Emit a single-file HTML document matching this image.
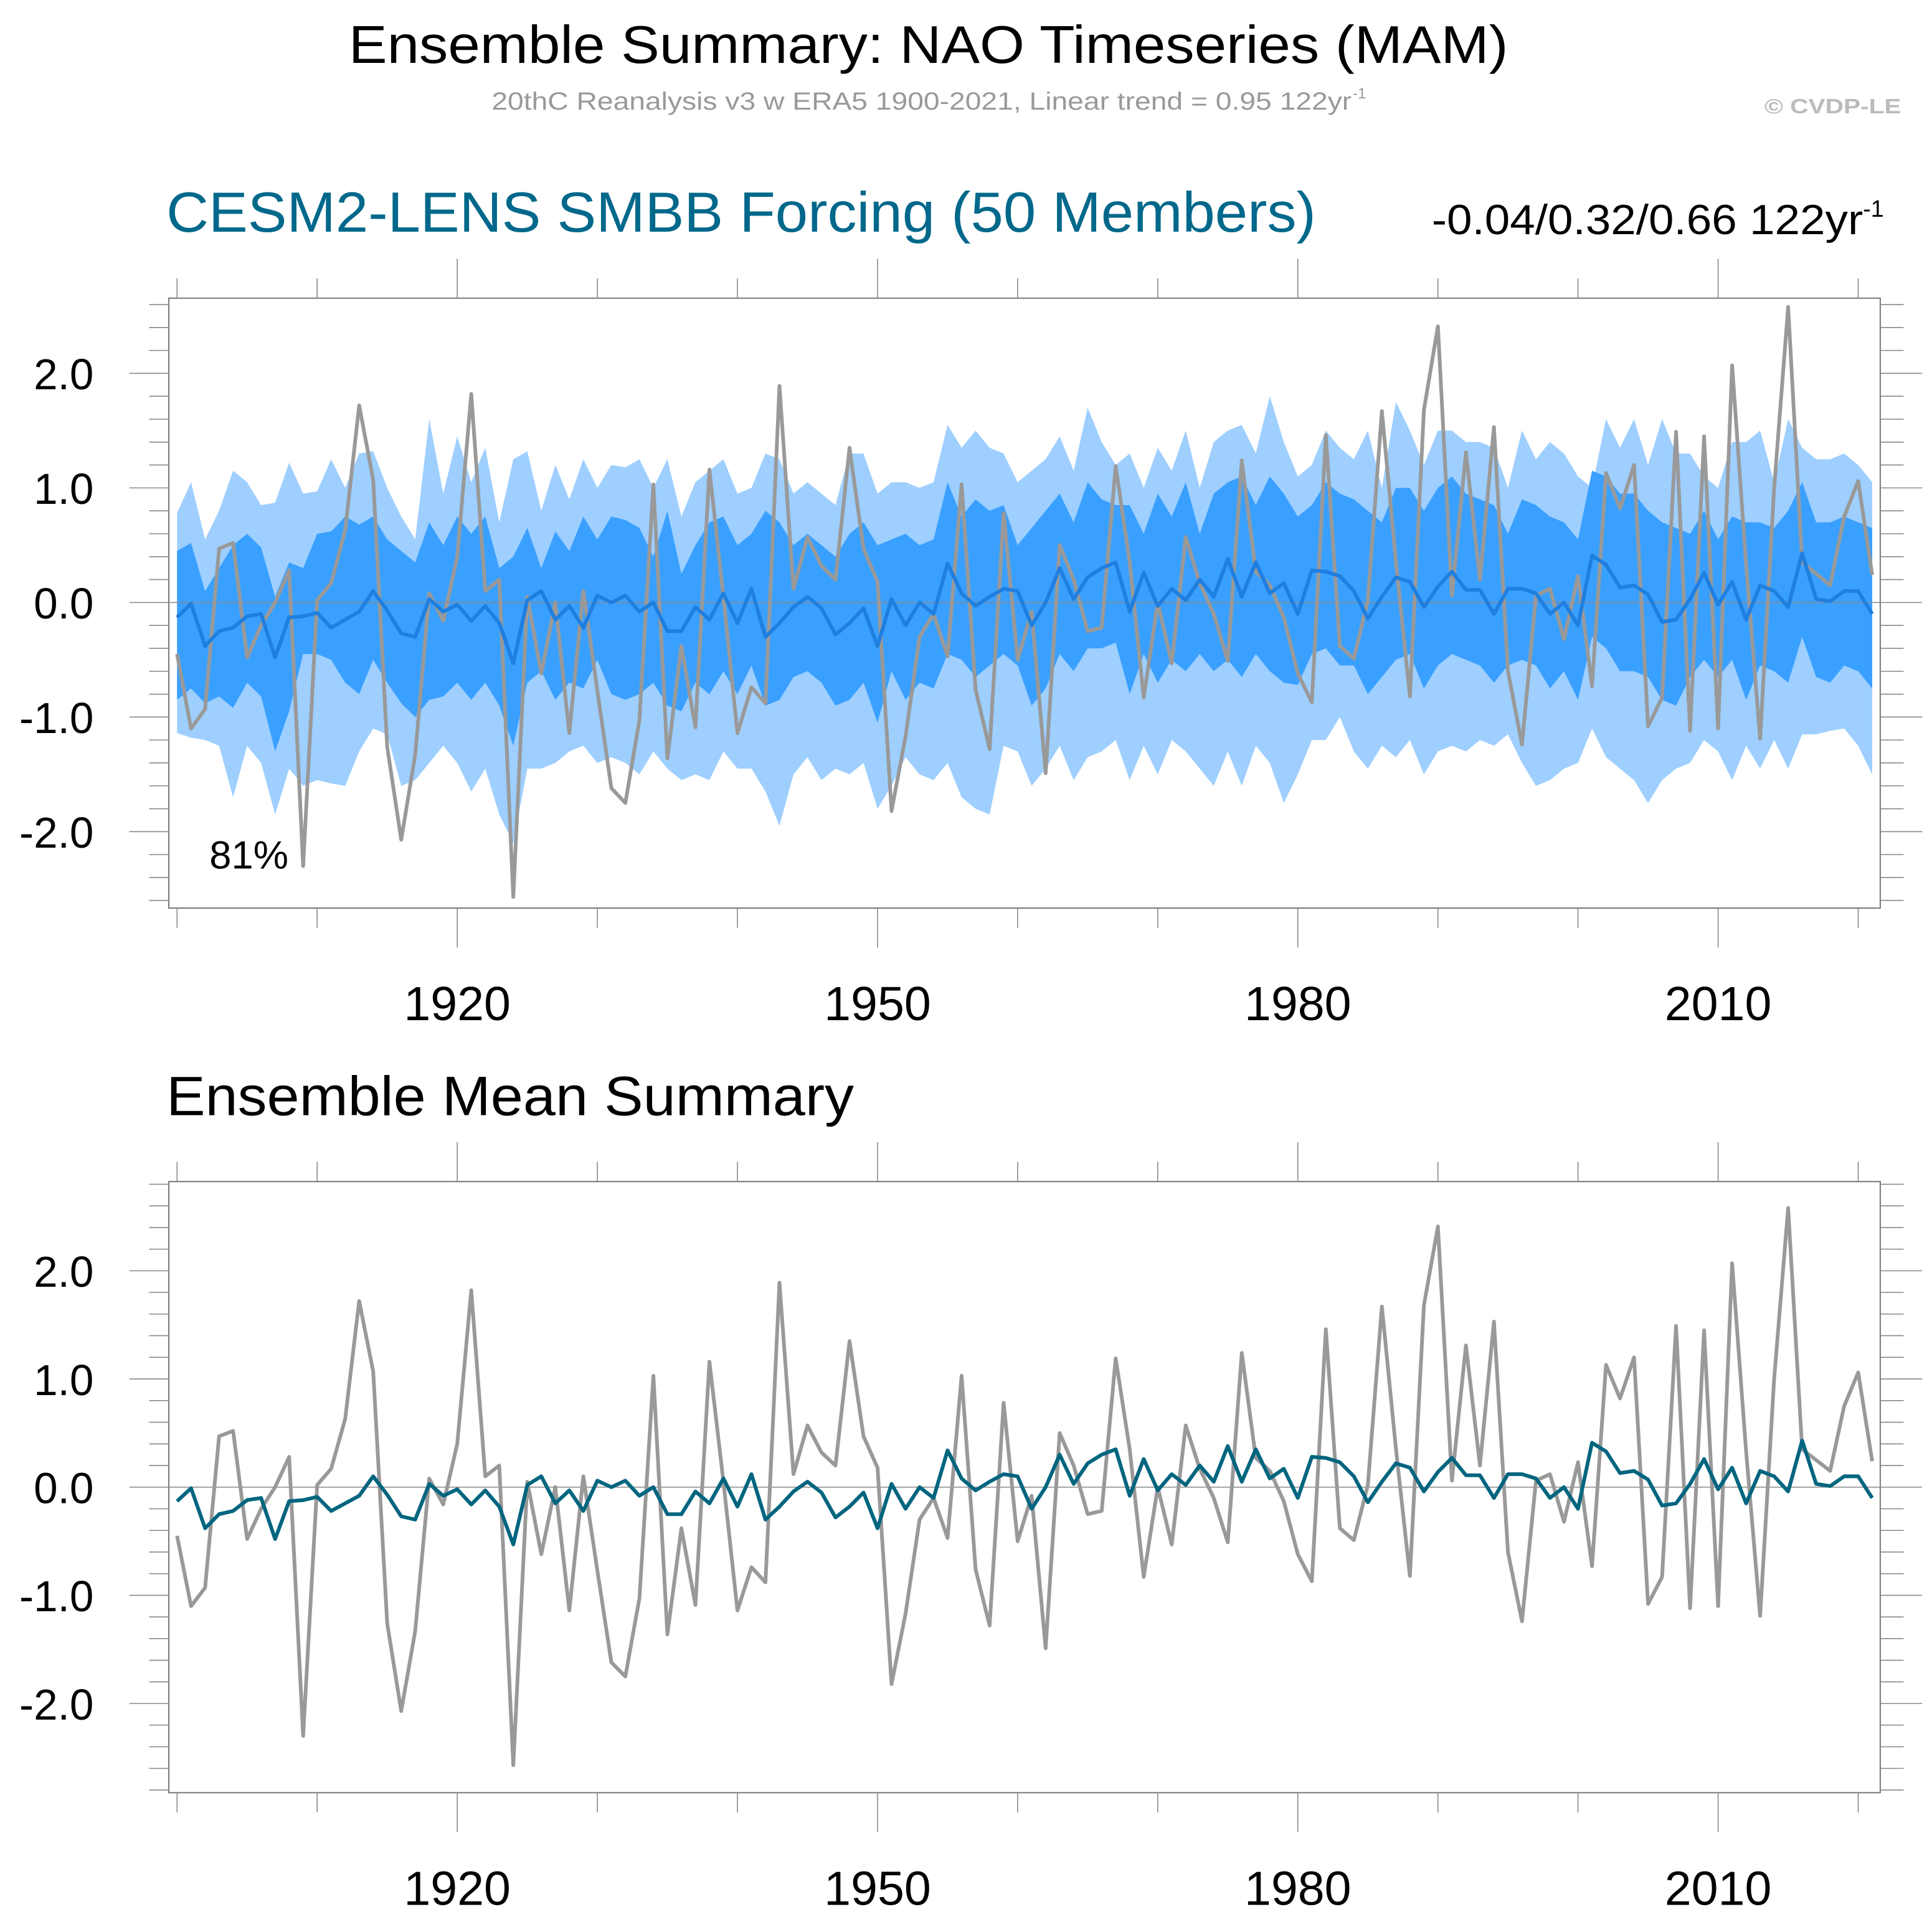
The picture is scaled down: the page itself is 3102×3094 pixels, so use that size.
<!DOCTYPE html>
<html><head><meta charset="utf-8"><style>
html,body{margin:0;padding:0;background:#fff;}
svg{display:block;font-family:"Liberation Sans",sans-serif;}
</style></head><body>
<svg id="chart" width="3102" height="3094" viewBox="0 0 1568 1564" preserveAspectRatio="none" xmlns="http://www.w3.org/2000/svg">
<text x="283" y="51" font-size="43" textLength="941" lengthAdjust="spacingAndGlyphs">Ensemble Summary: NAO Timeseries (MAM)</text>
<text x="399" y="89" font-size="20" fill="#999" textLength="698" lengthAdjust="spacingAndGlyphs">20thC Reanalysis v3 w ERA5 1900-2021, Linear trend = 0.95 122yr</text>
<text x="1098" y="80" font-size="12" fill="#999">-1</text>
<text x="1432" y="92" font-size="17" font-weight="bold" fill="#bbb" textLength="111" lengthAdjust="spacingAndGlyphs">© CVDP-LE</text>
<text x="135" y="188" font-size="46" fill="#00688b" textLength="933" lengthAdjust="spacingAndGlyphs">CESM2-LENS SMBB Forcing (50 Members)</text>
<text x="1162" y="190" font-size="34" textLength="350" lengthAdjust="spacingAndGlyphs">-0.04/0.32/0.66 122yr</text>
<text x="1512" y="176" font-size="19">-1</text>
<text x="135" y="905" font-size="45" textLength="558" lengthAdjust="spacingAndGlyphs">Ensemble Mean Summary</text>
<g id="p1"></g>
<g id="p2"></g>
</svg>
<script>
const years = Array.from({length:122},(_,i)=>1900+i);
const obs = [-0.45,-1.1,-0.93,0.47,0.52,-0.48,-0.2,0.0,0.28,-2.3,
0.02,0.17,0.63,1.72,1.07,-1.26,-2.07,-1.33,0.08,-0.16,
0.4,1.82,0.1,0.2,-2.57,0.05,-0.62,0.0,-1.14,0.1,
-0.77,-1.62,-1.75,-1.03,1.03,-1.36,-0.38,-1.09,1.16,0.05,
-1.14,-0.74,-0.88,1.89,0.12,0.57,0.32,0.2,1.35,0.47,
0.18,-1.82,-1.17,-0.3,-0.1,-0.47,1.03,-0.76,-1.28,0.78,
-0.5,-0.08,-1.49,0.5,0.2,-0.25,-0.22,1.19,0.35,-0.83,
0.0,-0.53,0.57,0.17,-0.1,-0.51,1.24,0.27,0.15,-0.13,
-0.62,-0.87,1.46,-0.38,-0.49,0.02,1.67,0.36,-0.82,1.68,
2.41,0.06,1.31,0.2,1.53,-0.6,-1.24,0.06,0.12,-0.32,
0.23,-0.73,1.13,0.82,1.2,-1.08,-0.83,1.49,-1.12,1.45,
-1.1,2.07,0.33,-1.19,1.0,2.58,0.35,0.25,0.15,0.75,
1.06,0.24];
const ensMean = [-0.13,-0.01,-0.38,-0.25,-0.22,-0.12,-0.1,-0.48,-0.13,-0.12,
-0.09,-0.22,-0.15,-0.08,0.1,-0.07,-0.27,-0.3,0.03,-0.08,
-0.02,-0.16,-0.03,-0.18,-0.53,0.02,0.1,-0.15,-0.03,-0.22,
0.06,0.0,0.06,-0.08,0.0,-0.25,-0.25,-0.04,-0.15,0.08,
-0.18,0.12,-0.3,-0.18,-0.04,0.05,-0.05,-0.28,-0.18,-0.05,
-0.38,0.03,-0.2,0.0,-0.1,0.34,0.08,-0.03,0.05,0.12,
0.1,-0.2,0.0,0.3,0.03,0.22,0.3,0.35,-0.08,0.26,
-0.03,0.12,0.02,0.2,0.05,0.38,0.05,0.35,0.08,0.17,
-0.1,0.28,0.27,0.23,0.1,-0.14,0.05,0.22,0.18,-0.04,
0.14,0.27,0.11,0.11,-0.1,0.12,0.12,0.08,-0.1,0.0,
-0.2,0.41,0.33,0.13,0.15,0.07,-0.17,-0.15,0.03,0.26,
-0.02,0.18,-0.15,0.15,0.1,-0.04,0.43,0.03,0.01,0.1,
0.1,-0.1];
const outerHi = [0.78,1.05,0.55,0.8,1.15,1.05,0.85,0.87,1.22,0.95,
0.97,1.25,1.0,1.3,1.32,1.0,0.75,0.55,1.6,0.95,
1.45,1.05,1.35,0.7,1.25,1.32,0.8,1.2,0.9,1.25,
1.0,1.2,1.18,1.25,1.0,1.25,0.75,1.05,1.15,1.25,
0.95,1.0,1.3,1.25,0.95,1.05,0.95,0.85,1.3,1.3,
0.95,1.05,1.05,1.0,1.05,1.55,1.35,1.5,1.35,1.3,
1.05,1.15,1.25,1.45,1.15,1.7,1.4,1.2,1.3,1.0,
1.35,1.15,1.5,1.0,1.4,1.5,1.55,1.3,1.8,1.4,
1.1,1.2,1.5,1.35,1.25,1.5,1.0,1.75,1.5,1.2,
1.5,1.5,1.4,1.4,1.35,1.0,1.5,1.25,1.4,1.3,
1.1,1.0,1.6,1.35,1.6,1.2,1.6,1.3,1.3,1.1,
1.0,1.4,1.4,1.5,1.05,1.6,1.35,1.25,1.25,1.3,
1.2,1.05];
const innerHi = [0.45,0.52,0.1,0.3,0.5,0.6,0.48,0.05,0.35,0.3,
0.6,0.62,0.75,0.68,0.75,0.55,0.45,0.35,0.7,0.5,
0.75,0.6,0.75,0.3,0.4,0.65,0.3,0.62,0.45,0.75,
0.55,0.75,0.72,0.65,0.4,0.8,0.25,0.5,0.7,0.75,
0.5,0.6,0.8,0.7,0.5,0.6,0.5,0.4,0.6,0.7,
0.5,0.55,0.6,0.5,0.55,1.05,0.75,0.9,0.8,0.85,
0.5,0.65,0.8,0.95,0.7,1.05,0.9,0.85,0.85,0.6,
0.95,0.75,1.05,0.6,0.95,1.05,1.1,0.85,1.1,0.95,
0.75,0.85,1.05,0.95,0.9,0.8,0.7,1.0,1.0,0.8,
1.0,1.1,0.95,0.9,0.85,0.6,0.9,0.85,0.75,0.7,
0.55,1.15,1.1,0.95,0.95,0.8,0.7,0.65,0.6,0.8,
0.55,0.75,0.7,0.7,0.65,0.8,1.05,0.7,0.7,0.75,
0.7,0.65];
const innerLo = [-0.85,-0.75,-0.88,-0.82,-0.92,-0.7,-0.82,-1.3,-0.95,-0.45,
-0.45,-0.5,-0.7,-0.8,-0.5,-0.7,-0.88,-1.0,-0.85,-0.82,
-0.7,-0.85,-0.7,-0.9,-1.25,-0.7,-0.6,-0.85,-0.7,-0.75,
-0.5,-0.8,-0.85,-0.8,-0.7,-0.9,-0.95,-0.7,-0.8,-0.6,
-0.8,-0.55,-0.9,-0.85,-0.65,-0.6,-0.7,-0.9,-0.85,-0.7,
-1.05,-0.6,-0.85,-0.7,-0.75,-0.45,-0.5,-0.65,-0.55,-0.45,
-0.55,-0.9,-0.75,-0.45,-0.6,-0.4,-0.4,-0.35,-0.8,-0.45,
-0.7,-0.5,-0.6,-0.45,-0.6,-0.5,-0.65,-0.45,-0.6,-0.7,
-0.72,-0.45,-0.4,-0.55,-0.55,-0.8,-0.65,-0.5,-0.45,-0.75,
-0.55,-0.45,-0.5,-0.55,-0.7,-0.55,-0.5,-0.55,-0.75,-0.6,
-0.85,-0.3,-0.4,-0.6,-0.6,-0.65,-0.85,-0.9,-0.65,-0.5,
-0.65,-0.5,-0.85,-0.55,-0.6,-0.7,-0.3,-0.65,-0.7,-0.55,
-0.6,-0.75];
const outerLo = [-1.14,-1.18,-1.2,-1.25,-1.7,-1.25,-1.4,-1.85,-1.45,-1.6,
-1.55,-1.58,-1.6,-1.3,-1.1,-1.15,-1.6,-1.55,-1.4,-1.25,
-1.4,-1.65,-1.45,-1.85,-2.1,-1.45,-1.45,-1.4,-1.3,-1.25,
-1.4,-1.35,-1.4,-1.5,-1.3,-1.45,-1.55,-1.5,-1.55,-1.3,
-1.45,-1.45,-1.65,-1.95,-1.5,-1.35,-1.55,-1.45,-1.5,-1.4,
-1.8,-1.6,-1.35,-1.5,-1.55,-1.4,-1.7,-1.8,-1.85,-1.25,
-1.3,-1.6,-1.45,-1.25,-1.55,-1.35,-1.3,-1.2,-1.55,-1.25,
-1.5,-1.2,-1.3,-1.45,-1.6,-1.3,-1.6,-1.25,-1.4,-1.75,
-1.5,-1.2,-1.2,-1.0,-1.3,-1.45,-1.25,-1.35,-1.2,-1.5,
-1.3,-1.25,-1.3,-1.2,-1.25,-1.15,-1.4,-1.6,-1.55,-1.45,
-1.4,-1.1,-1.35,-1.45,-1.55,-1.75,-1.55,-1.45,-1.4,-1.2,
-1.3,-1.55,-1.25,-1.45,-1.2,-1.45,-1.15,-1.15,-1.12,-1.1,
-1.25,-1.5];
const yTickLabels = ["-2.0","-1.0","0.0","1.0","2.0"];
const yTickVals = [-2,-1,0,1,2];
const xTickLabels = ["1920","1950","1980","2010"];
const xTickVals = [1920,1950,1980,2010];

const NS="http://www.w3.org/2000/svg";
function mk(tag,attrs,parent){const e=document.createElementNS(NS,tag);for(const k in attrs)e.setAttribute(k,attrs[k]);parent.appendChild(e);return e;}
function xs(yr){return 143.7+11.37*(yr-1900);}

function panel(g,top,bottom,zeroY,unit,bands,meanColor,label){
  const ys=v=>zeroY-v*unit;
  const L=137,R=1526;
  if(bands){
    const poly=(hi,lo,fill,name)=>{
      let pts=years.map((y,i)=>xs(y)+","+ys(hi[i])).concat(years.slice().reverse().map((y,j)=>{const i=years.length-1-j;return xs(y)+","+ys(lo[i]);}));
      const p=mk('polygon',{points:pts.join(' '),fill:fill},g);
      
      
    };
    poly(outerHi,outerLo,'#9ecfff','ensemble-range-band');
    poly(innerHi,innerLo,'#3aa0ff','ensemble-10-90-band');
  }
  const z=mk('line',{x1:L,x2:R,y1:ys(0),y2:ys(0),stroke:'#888','stroke-width':0.8},g);
  
  
  const o=mk('polyline',{points:years.map((y,i)=>xs(y)+","+ys(obs[i])).join(' '),fill:'none',stroke:'#999','stroke-width':3,'stroke-linejoin':'round'},g);
  
  
  const m=mk('polyline',{points:years.map((y,i)=>xs(y)+","+ys(ensMean[i])).join(' '),fill:'none',stroke:meanColor,'stroke-width':3,'stroke-linejoin':'round'},g);
  
  
  const box=mk('rect',{x:L,y:top,width:R-L,height:bottom-top,fill:'none',stroke:'#777','stroke-width':1},g);
  
  
  for(let k=-14;k<=14;k++){
    const v=k*0.2, y=ys(v);
    if(y<top+2||y>bottom-2)continue;
    const major=(k%5===0);
    const t1=mk('line',{x1:major?105:121,x2:L,y1:y,y2:y,stroke:'#888','stroke-width':0.8},g);
    
    
    const t2=mk('line',{x1:R,x2:major?1560:1545,y1:y,y2:y,stroke:'#888','stroke-width':0.8},g);
    
    
  }
  yTickVals.forEach((v,i)=>{
    const t=mk('text',{x:76,y:ys(v)+13,'font-size':35,'text-anchor':'end'},g);
    t.textContent=yTickLabels[i];
    
    
  });
  for(let yr=1900;yr<=2020;yr+=10){
    const major=xTickVals.includes(yr);
    const x=xs(yr);
    const a=mk('line',{x1:x,x2:x,y1:top,y2:top-(major?32:16),stroke:'#888','stroke-width':0.8},g);
    
    
    const b=mk('line',{x1:x,x2:x,y1:bottom,y2:bottom+(major?32:16),stroke:'#888','stroke-width':0.8},g);
    
    
  }
  xTickVals.forEach((v,i)=>{
    const t=mk('text',{x:xs(v),y:bottom+91,'font-size':39,'text-anchor':'middle'},g);
    t.textContent=xTickLabels[i];
    
    
  });
  if(label){
    const t=mk('text',{x:170,y:705,'font-size':32},g);
    t.textContent=label;
    
    
  }
}
panel(document.getElementById('p1'),242,737,489,93,true,'#1f7fe0','81%');
panel(document.getElementById('p2'),959,1455,1207,87.8,false,'#00657f',null);
</script>
</body></html>
